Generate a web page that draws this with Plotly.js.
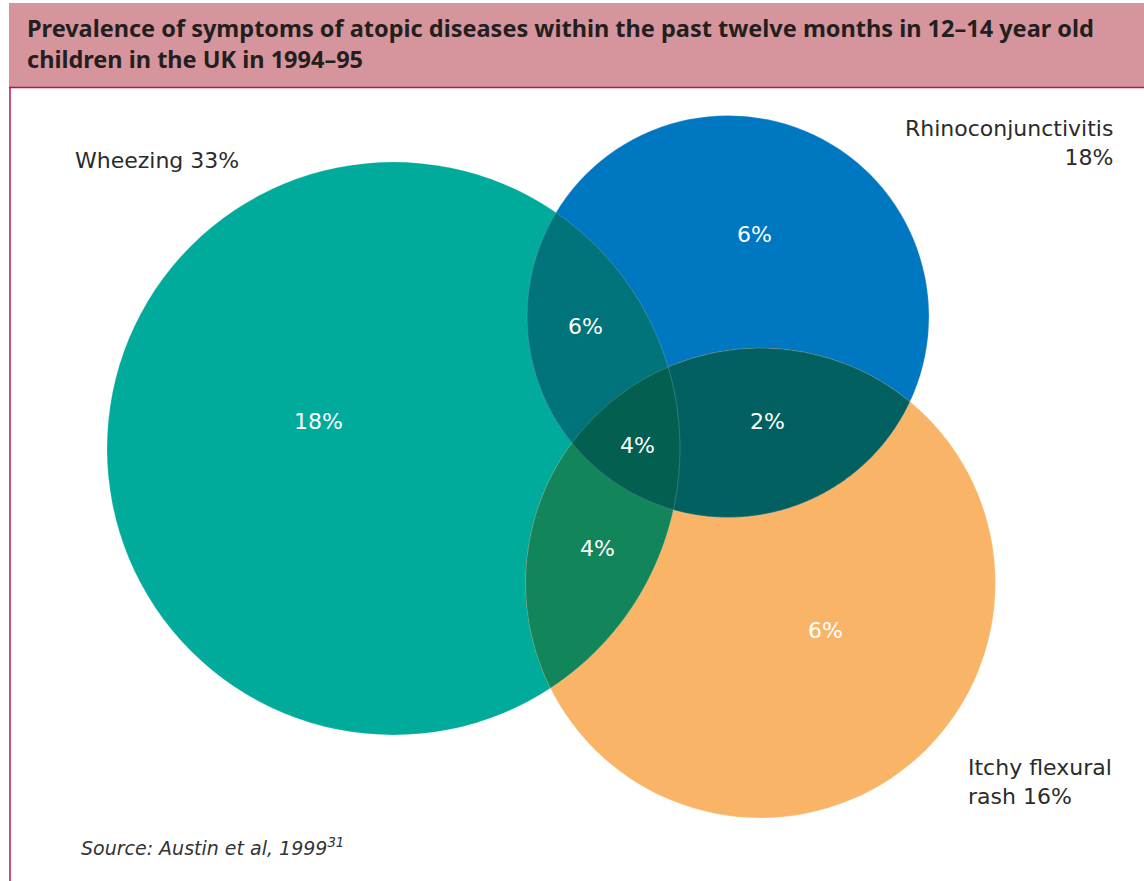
<!DOCTYPE html>
<html>
<head>
<meta charset="utf-8">
<script src="https://cdn.plot.ly/plotly-3.0.1.min.js"></script>
<style>
html,body{margin:0;padding:0;background:#fff;}
#chart{width:1144px;height:881px;}
</style>
</head>
<body>
<div id="chart"></div>
<script>
// ---- data ----
var setNames = ['Wheezing', 'Rhinoconjunctivitis', 'Itchy flexural rash'];
var setTotals = [33, 18, 16];
var regionSets = [['W'], ['R'], ['I'], ['W','R'], ['W','I'], ['R','I'], ['W','R','I']];
var regionValues = [18, 6, 6, 6, 4, 2, 4];
var titleText = 'Prevalence of symptoms of atopic diseases within the past twelve months in 12–14 year old<br>children in the UK in 1994–95';
var sourceText = '<i>Source: Austin et al, 1999<sup>31</sup></i>';

// ---- layout geometry (pixel-like data units) ----
var circles = {
  W: {cx: 393.5, cy: 448.5, r: 286.5},
  R: {cx: 728, cy: 316.5, r: 201},
  I: {cx: 760.5, cy: 583, r: 235}
};
var regionColors = {
  'W': '#00ab9c', 'R': '#0077c1', 'I': '#f9b467',
  'W,R': '#00737b', 'W,I': '#13855b', 'R,I': '#036060', 'W,R,I': '#035f50'
};
var regionLabelPos = {
  'W': [318, 421], 'R': [754, 234], 'I': [825, 630],
  'W,R': [585, 326], 'W,I': [597, 548], 'R,I': [767, 421], 'W,R,I': [637, 445]
};
var setLabelCfg = [
  {x: 73, y: 160, xanchor: 'left', align: 'left'},
  {x: 1115, y: 143, xanchor: 'right', align: 'right'},
  {x: 966, y: 782, xanchor: 'left', align: 'left'}
];
var setLabelText = [
  setNames[0] + ' ' + setTotals[0] + '%',
  setNames[1] + '<br>' + setTotals[1] + '%',
  'Itchy flexural<br>rash ' + setTotals[2] + '%'
];

function inside(p, c, tol) {
  var dx = p[0] - c.cx, dy = p[1] - c.cy;
  return Math.sqrt(dx*dx + dy*dy) <= c.r + tol;
}
function circleIntersections(a, b) {
  var dx = b.cx - a.cx, dy = b.cy - a.cy, d = Math.sqrt(dx*dx + dy*dy);
  if (d > a.r + b.r || d < Math.abs(a.r - b.r)) return [];
  var l = (a.r*a.r - b.r*b.r + d*d) / (2*d);
  var h = Math.sqrt(Math.max(0, a.r*a.r - l*l));
  var mx = a.cx + l*dx/d, my = a.cy + l*dy/d;
  return [[mx + h*dy/d, my - h*dx/d], [mx - h*dy/d, my + h*dx/d]];
}
function intersectionPath(keys) {
  var cs = keys.map(function(k){ return circles[k]; });
  var pts = [];
  var N = 1440;
  cs.forEach(function(c, i) {
    for (var s = 0; s < N; s++) {
      var t = 2*Math.PI*s/N;
      var p = [c.cx + c.r*Math.cos(t), c.cy + c.r*Math.sin(t)];
      var ok = cs.every(function(o, j){ return j === i || inside(p, o, 0); });
      if (ok) pts.push(p);
    }
  });
  for (var i = 0; i < cs.length; i++) for (var j = i+1; j < cs.length; j++) {
    circleIntersections(cs[i], cs[j]).forEach(function(p) {
      if (cs.every(function(o){ return inside(p, o, 0.5); })) pts.push(p);
    });
  }
  var mx = 0, my = 0;
  pts.forEach(function(p){ mx += p[0]; my += p[1]; });
  mx /= pts.length; my /= pts.length;
  pts.sort(function(a, b){ return Math.atan2(a[1]-my, a[0]-mx) - Math.atan2(b[1]-my, b[0]-mx); });
  return 'M' + pts.map(function(p){ return p[0].toFixed(2) + ',' + p[1].toFixed(2); }).join('L') + 'Z';
}

var shapes = [];
// title band
shapes.push({type: 'rect', xref: 'x', yref: 'y', x0: 9, x1: 1144, y0: 3, y1: 87,
  fillcolor: '#d6949c', line: {width: 0}, layer: 'below'});
// frame lines
shapes.push({type: 'line', xref: 'x', yref: 'y', x0: 9, x1: 1144, y0: 87.5, y1: 87.5,
  line: {color: '#b5174f', width: 1.5}});
shapes.push({type: 'line', xref: 'x', yref: 'y', x0: 10, x1: 10, y0: 87, y1: 881,
  line: {color: '#b5174f', width: 1.5}});

// base circles
['W', 'R', 'I'].forEach(function(k) {
  var c = circles[k];
  shapes.push({type: 'circle', xref: 'x', yref: 'y',
    x0: c.cx - c.r, x1: c.cx + c.r, y0: c.cy - c.r, y1: c.cy + c.r,
    fillcolor: regionColors[k], line: {width: 0}});
});
// overlaps
regionSets.forEach(function(s) {
  if (s.length < 2) return;
  shapes.push({type: 'path', xref: 'x', yref: 'y', path: intersectionPath(s),
    fillcolor: regionColors[s.join(',')], line: {width: 0}});
});
// faint boundaries
['W', 'R', 'I'].forEach(function(k) {
  var c = circles[k];
  shapes.push({type: 'circle', xref: 'x', yref: 'y',
    x0: c.cx - c.r, x1: c.cx + c.r, y0: c.cy - c.r, y1: c.cy + c.r,
    fillcolor: 'rgba(0,0,0,0)', line: {width: 0.6, color: 'rgba(255,255,255,0.3)'}});
});

var annotations = [];
regionSets.forEach(function(s, i) {
  var pos = regionLabelPos[s.join(',')];
  annotations.push({x: pos[0], y: pos[1], xref: 'x', yref: 'y', text: regionValues[i] + '%',
    showarrow: false, font: {family: 'DejaVu Sans, sans-serif', size: 22, color: '#ffffff'},
    xanchor: 'center', yanchor: 'middle'});
});
setLabelCfg.forEach(function(cfg, i) {
  annotations.push({x: cfg.x, y: cfg.y, xref: 'x', yref: 'y', text: setLabelText[i],
    showarrow: false, align: cfg.align, xanchor: cfg.xanchor, yanchor: 'middle',
    font: {family: 'DejaVu Sans, sans-serif', size: 22, color: '#2b2b2b'}});
});
annotations.push({x: 25, y: 43, xref: 'x', yref: 'y', text: '<b>' + titleText + '</b>',
  showarrow: false, align: 'left', xanchor: 'left', yanchor: 'middle',
  font: {family: 'Noto Sans, sans-serif', size: 23.5, color: '#231f20'}});
annotations.push({x: 79, y: 847, xref: 'x', yref: 'y', text: sourceText,
  showarrow: false, align: 'left', xanchor: 'left', yanchor: 'middle',
  font: {family: 'DejaVu Sans, sans-serif', size: 19, color: '#333333'}});

var layout = {
  width: 1144, height: 881,
  margin: {l: 0, r: 0, t: 0, b: 0, pad: 0},
  paper_bgcolor: '#ffffff', plot_bgcolor: '#ffffff',
  xaxis: {range: [0, 1144], visible: false, fixedrange: true},
  yaxis: {range: [881, 0], visible: false, fixedrange: true},
  showlegend: false,
  shapes: shapes,
  annotations: annotations
};
Plotly.newPlot('chart', [{x: [], y: [], type: 'scatter', mode: 'markers', hoverinfo: 'skip'}], layout, {displayModeBar: false, staticPlot: true});
</script>
</body>
</html>
